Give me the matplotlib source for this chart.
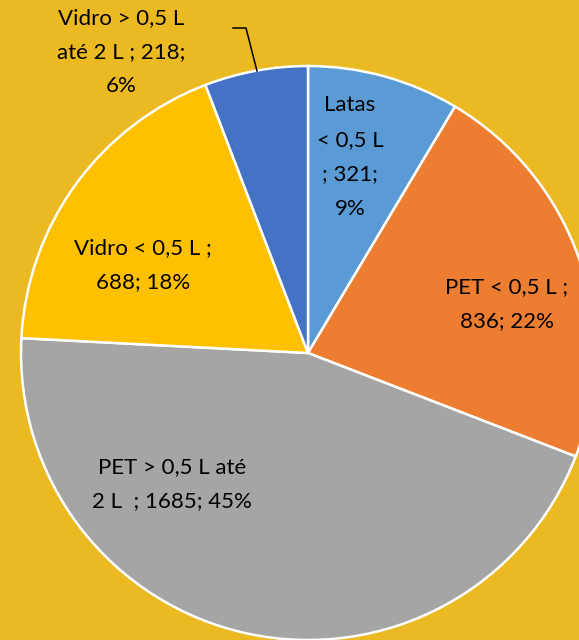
import matplotlib.pyplot as plt

# slices in clockwise order from 12 o'clock
categories = ["Latas\n< 0,5 L\n; 321;\n9%", "PET < 0,5 L ;\n836; 22%",
              "PET > 0,5 L até\n2 L  ; 1685; 45%", "Vidro < 0,5 L ;\n688; 18%",
              "Vidro > 0,5 L\naté 2 L ; 218;\n6%"]
values = [321, 836, 1685, 688, 218]
colors = ["#5B9BD5", "#ED7D31", "#A5A5A5", "#FFC000", "#4472C4"]

# label centres in pixel coords (x, y from top)
label_pos = [(350, 157), (507, 304), (172, 484), (143, 265), (121, 52)]

W, H = 579, 640
BG = "#EBB922"

fig = plt.figure(figsize=(W / 100, H / 100), dpi=100, facecolor=BG)
ax = fig.add_axes([0, 0, 1, 1])
ax.set_facecolor(BG)

cx, cy, r = 308, H - 353, 287
ax.pie(values, colors=colors, startangle=90, counterclock=False,
       center=(cx, cy), radius=r, frame=True,
       wedgeprops=dict(edgecolor="white", linewidth=1.8))
ax.set_xlim(0, W)
ax.set_ylim(0, H)
ax.axis("off")

for text, (x, y) in zip(categories, label_pos):
    ax.text(x, H - y, text, ha="center", va="center", fontsize=16,
            family="Lato", color="black", linespacing=1.9)

# leader line for the small slice
ax.plot([233, 246, 257], [H - 28, H - 28, H - 71], color="black", lw=1.1)

fig.savefig("out.png", dpi=100, facecolor=BG)
